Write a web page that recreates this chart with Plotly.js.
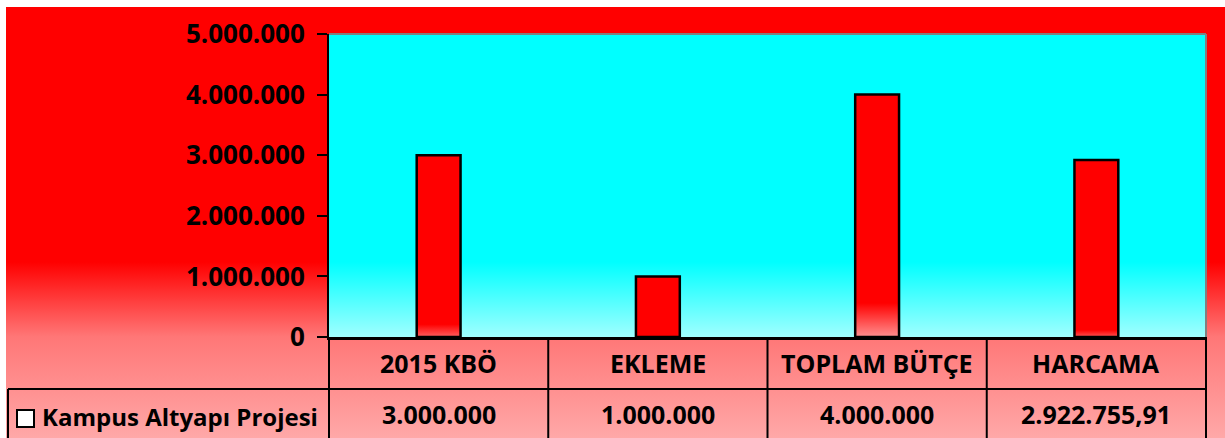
<!DOCTYPE html>
<html>
<head>
<meta charset="utf-8">
<script src="https://cdn.plot.ly/plotly-3.0.1.min.js"></script>
<style>
  html, body { margin: 0; padding: 0; background: #ffffff; }
  #wrap { position: relative; width: 1225px; height: 438px; overflow: hidden; }
  #outerBg { position: absolute; left: 6px; top: 7px; right: 0; bottom: 0;
    background: linear-gradient(to bottom, #ff0000 0px, #ff0000 255px, #ff7777 330px, #ffa8a8 431px); }
  #plotBg { position: absolute; left: 329px; top: 34px; width: 877px; height: 303px;
    background: linear-gradient(to bottom, #00ffff 0px, #00ffff 228px, #a0ffff 303px); }
  #chart { position: absolute; left: 0; top: 0; width: 1225px; height: 438px; }
</style>
</head>
<body>
<div id="wrap">
  <div id="outerBg"></div>
  <div id="plotBg"></div>
  <div id="chart"></div>
</div>
<script>
// ---- data ----
const categories = ['2015 KBÖ', 'EKLEME', 'TOPLAM BÜTÇE', 'HARCAMA'];
const seriesName = 'Kampus Altyapı Projesi';
const seriesValues = [3000000, 1000000, 4000000, 2922755.91];
const yTickValues = [0, 1000000, 2000000, 3000000, 4000000, 5000000];

// Turkish number formatting
function fmtTR(v) {
  const neg = v < 0; v = Math.abs(v);
  const cents = Math.round(v * 100);
  const intPart = Math.floor(cents / 100);
  const frac = cents % 100;
  let out = String(intPart).replace(/\B(?=(\d{3})+(?!\d))/g, '.');
  if (frac !== 0) out += ',' + String(frac).padStart(2, '0');
  return (neg ? '-' : '') + out;
}

const FONT = 'Open Sans, Arial, sans-serif';

// layout geometry helpers (paper coords)
const W = 1225, H = 438, ML = 329, MR = 19, MT = 34, MB = 101;
const PW = W - ML - MR, PH = H - MT - MB;
const px2x = p => (p - ML) / PW;
const py2y = p => (H - MB - p) / PH;

const shapes = [];
const LINE = { color: '#000000', width: 2 };
// top and right border of plot (gray)
shapes.push({ type: 'line', xref: 'paper', yref: 'paper', x0: 0, x1: 1, y0: 1, y1: 1, line: { color: '#808080', width: 2 } });
shapes.push({ type: 'line', xref: 'paper', yref: 'paper', x0: 1, x1: 1, y0: 0, y1: 1, line: { color: '#808080', width: 2 } });
// data table grid
const n = categories.length;
for (let i = 0; i <= n; i++) {
  shapes.push({ type: 'line', xref: 'paper', yref: 'paper', x0: i / n, x1: i / n, y0: 0, y1: py2y(440), line: LINE });
}
shapes.push({ type: 'line', xref: 'paper', yref: 'paper', x0: px2x(8), x1: 1, y0: py2y(389), y1: py2y(389), line: LINE });
shapes.push({ type: 'line', xref: 'paper', yref: 'paper', x0: px2x(8), x1: px2x(8), y0: py2y(389), y1: py2y(440), line: LINE });
// legend key
shapes.push({ type: 'rect', xref: 'paper', yref: 'paper', x0: px2x(17), x1: px2x(34), y0: py2y(410), y1: py2y(427),
  fillcolor: '#ffffff', line: { color: '#000000', width: 2 } });

const annotations = [];
categories.forEach((c, i) => {
  annotations.push({ xref: 'x', yref: 'paper', x: c, y: py2y(363), text: c, showarrow: false,
    xanchor: 'center', yanchor: 'middle', font: { family: FONT, size: 25, color: '#000', weight: 'bold' } });
  annotations.push({ xref: 'x', yref: 'paper', x: c, y: py2y(414), text: fmtTR(seriesValues[i]), showarrow: false,
    xanchor: 'center', yanchor: 'middle', font: { family: FONT, size: 25, color: '#000', weight: 'bold' } });
});
annotations.push({ xref: 'paper', yref: 'paper', x: px2x(40), y: py2y(416), text: seriesName, showarrow: false,
  xanchor: 'left', yanchor: 'middle', font: { family: FONT, size: 24, color: '#000', weight: 'bold' } });

const trace = {
  type: 'bar',
  x: categories,
  y: seriesValues,
  name: seriesName,
  width: 0.2,
  marker: { color: '#ff0000', line: { color: '#000000', width: 2.5 } },
  hoverinfo: 'x+y'
};

const layout = {
  width: W, height: H,
  margin: { l: ML, r: MR, t: MT, b: MB, pad: 0 },
  paper_bgcolor: 'rgba(0,0,0,0)',
  plot_bgcolor: 'rgba(0,0,0,0)',
  separators: ',.',
  showlegend: false,
  font: { family: FONT, size: 24, color: '#000' },
  xaxis: {
    type: 'category', range: [-0.5, n - 0.5], showticklabels: false, ticks: '',
    showgrid: false, zeroline: false, showline: true, linecolor: '#000', linewidth: 2.5, fixedrange: true
  },
  yaxis: {
    range: [0, 5000000], tickvals: yTickValues, tickformat: ',d', separatethousands: true,
    ticks: 'outside', ticklen: 10, tickwidth: 2, tickcolor: '#000', ticklabelstandoff: 7,
    showgrid: false, zeroline: false, showline: true, linecolor: '#000', linewidth: 2,
    tickfont: { family: FONT, size: 26, color: '#000', weight: 'bold' }, fixedrange: true
  },
  shapes: shapes,
  annotations: annotations
};

// per-bar foot gradient (start offset, end colour); null = plain
const barFoot = [[0.93, '#ff6060'], null, [0.86, '#ff9090'], [0.96, '#ff5555']];

Plotly.newPlot('chart', [trace], layout, { displayModeBar: false, staticPlot: true }).then(gd => {
  const svg = gd.querySelector('svg.main-svg');
  const ns = 'http://www.w3.org/2000/svg';
  let defs = svg.querySelector('defs');
  if (!defs) { defs = document.createElementNS(ns, 'defs'); svg.insertBefore(defs, svg.firstChild); }
  const paths = gd.querySelectorAll('.barlayer .point path');
  paths.forEach((p, i) => {
    const f = barFoot[i];
    if (!f) return;
    const g = document.createElementNS(ns, 'linearGradient');
    g.setAttribute('id', 'barFoot' + i);
    g.setAttribute('x1', '0'); g.setAttribute('y1', '0'); g.setAttribute('x2', '0'); g.setAttribute('y2', '1');
    [['0', '#ff0000'], [String(f[0]), '#ff0000'], ['1', f[1]]].forEach(([o, c]) => {
      const s = document.createElementNS(ns, 'stop');
      s.setAttribute('offset', o); s.setAttribute('stop-color', c); g.appendChild(s);
    });
    defs.appendChild(g);
    p.style.fill = 'url(#barFoot' + i + ')';
  });
});
</script>
</body>
</html>
